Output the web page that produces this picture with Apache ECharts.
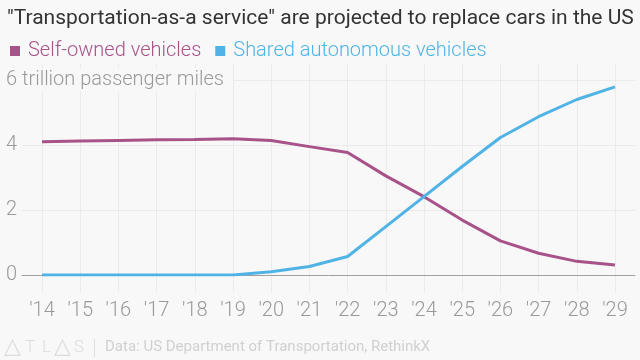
<!DOCTYPE html>
<html><head><meta charset="utf-8">
<script src="https://cdn.jsdelivr.net/npm/echarts@6/dist/echarts.min.js"></script>
<style>html,body{margin:0;padding:0;background:#f8f8f8}#c{width:640px;height:360px}</style>
</head><body><div id="c"></div>
<script>
var years = ["'14","'15","'16","'17","'18","'19","'20","'21","'22","'23","'24","'25","'26","'27","'28","'29"];
var selfOwned = [4.10, 4.12, 4.14, 4.16, 4.17, 4.19, 4.14, 3.95, 3.77, 3.05, 2.41, 1.69, 1.05, 0.67, 0.42, 0.31];
var shared = [0, 0, 0, 0, 0, 0, 0.10, 0.26, 0.57, 1.49, 2.41, 3.34, 4.23, 4.87, 5.40, 5.79];
var yTicks = [0, 2, 4, 6];
var titleText = '"Transportation-as-a service" are projected to replace cars in the US';
var seriesNames = ['Self-owned vehicles', 'Shared autonomous vehicles'];
var sourceText = 'Data: US Department of Transportation, RethinkX';
var logoLetters = ['△', 'T', 'L', '△', 'S'];

var magenta = '#a8528a', blue = '#50b3e6';
var font = 'Roboto';
var logoX = [4, 25, 42, 54, 74];
var graphics = logoLetters.map(function (ch, i) {
  var tri = ch === '△';
  return {type: 'text', left: logoX[i], top: tri ? 336 : 339,
    style: {text: ch, fill: '#dcdcdc', font: (tri ? '22px DejaVu Sans' : '300 17px ' + font)}};
});
graphics.push({type: 'rect', left: 94, top: 339, shape: {width: 1, height: 18}, style: {fill: '#dddddd'}});
graphics.push({type: 'text', left: 105, top: 340, style: {text: sourceText, fill: '#d0d0d0', font: '15px ' + font}});

var chart = echarts.init(document.getElementById('c'));
chart.setOption({
  backgroundColor: '#f8f8f8',
  animation: false,
  title: {
    text: titleText, left: 2, top: 3,
    textStyle: {fontFamily: font, fontSize: 21, fontWeight: 'normal', color: '#333'}
  },
  legend: {
    left: 5, top: 36, icon: 'rect', itemWidth: 10, itemHeight: 10, itemGap: 14,
    data: [
      {name: seriesNames[0], textStyle: {color: magenta}},
      {name: seriesNames[1], textStyle: {color: blue}}
    ],
    textStyle: {fontFamily: font, fontSize: 20, fontWeight: 300, padding: [0,0,0,3]}
  },
  grid: [
    {left: 42, right: 25, top: 64, bottom: 68},
    {left: 22, right: 5, top: 80, bottom: 85},
    {left: 42, right: 25, top: 80, bottom: 85}
  ],
  xAxis: [
    {gridIndex: 0, type: 'category', data: years, boundaryGap: false,
     axisLine: {show: false}, axisTick: {show: false},
     splitLine: {show: true, lineStyle: {color: '#ebebeb', width: 1}},
     axisLabel: {margin: 9, color: '#999', fontFamily: font, fontSize: 20, fontWeight: 300, interval: 0}},
    {gridIndex: 1, type: 'value', min: 0, max: 1, axisLabel: {show: false}, axisTick: {show: false},
     splitLine: {show: false}, axisLine: {show: true, lineStyle: {color: '#a0a0a0', width: 1}}},
    {gridIndex: 2, type: 'category', data: years, boundaryGap: false, show: false}
  ],
  yAxis: [
    {gridIndex: 0, type: 'value', min: 0, max: 1, show: false},
    {gridIndex: 1, type: 'value', min: 0, max: 6, interval: 2, z: 0, position: 'left',
     axisLine: {show: false}, axisTick: {show: false}, axisLabel: {show: false},
     splitLine: {show: true, lineStyle: {color: '#ebebeb', width: 1}}},
    {gridIndex: 1, type: 'value', min: 0, max: 6, interval: 2, z: 5, position: 'left', offset: 0,
     axisLine: {show: false}, axisTick: {show: false}, splitLine: {show: false},
     axisLabel: {
       margin: 16, align: 'left', color: '#999', fontFamily: font, fontSize: 20, fontWeight: 300,
       formatter: function (v) { return v === yTicks[yTicks.length - 1] ? '{top|' + v + ' trillion passenger miles}' : String(v); },
       rich: {top: {backgroundColor: '#f8f8f8', padding: [2, 9, 2, 0], color: '#999', fontFamily: font, fontSize: 20, fontWeight: 300}}
     }},
    {gridIndex: 2, type: 'value', min: 0, max: 6, show: false}
  ],
  series: [
    {name: seriesNames[0], type: 'line', xAxisIndex: 2, yAxisIndex: 3, data: selfOwned,
     symbol: 'none', lineStyle: {color: magenta, width: 3}, itemStyle: {color: magenta}, z: 3},
    {name: seriesNames[1], type: 'line', xAxisIndex: 2, yAxisIndex: 3, data: shared,
     symbol: 'none', lineStyle: {color: blue, width: 3}, itemStyle: {color: blue}, z: 4}
  ],
  graphic: graphics
});
</script></body></html>
